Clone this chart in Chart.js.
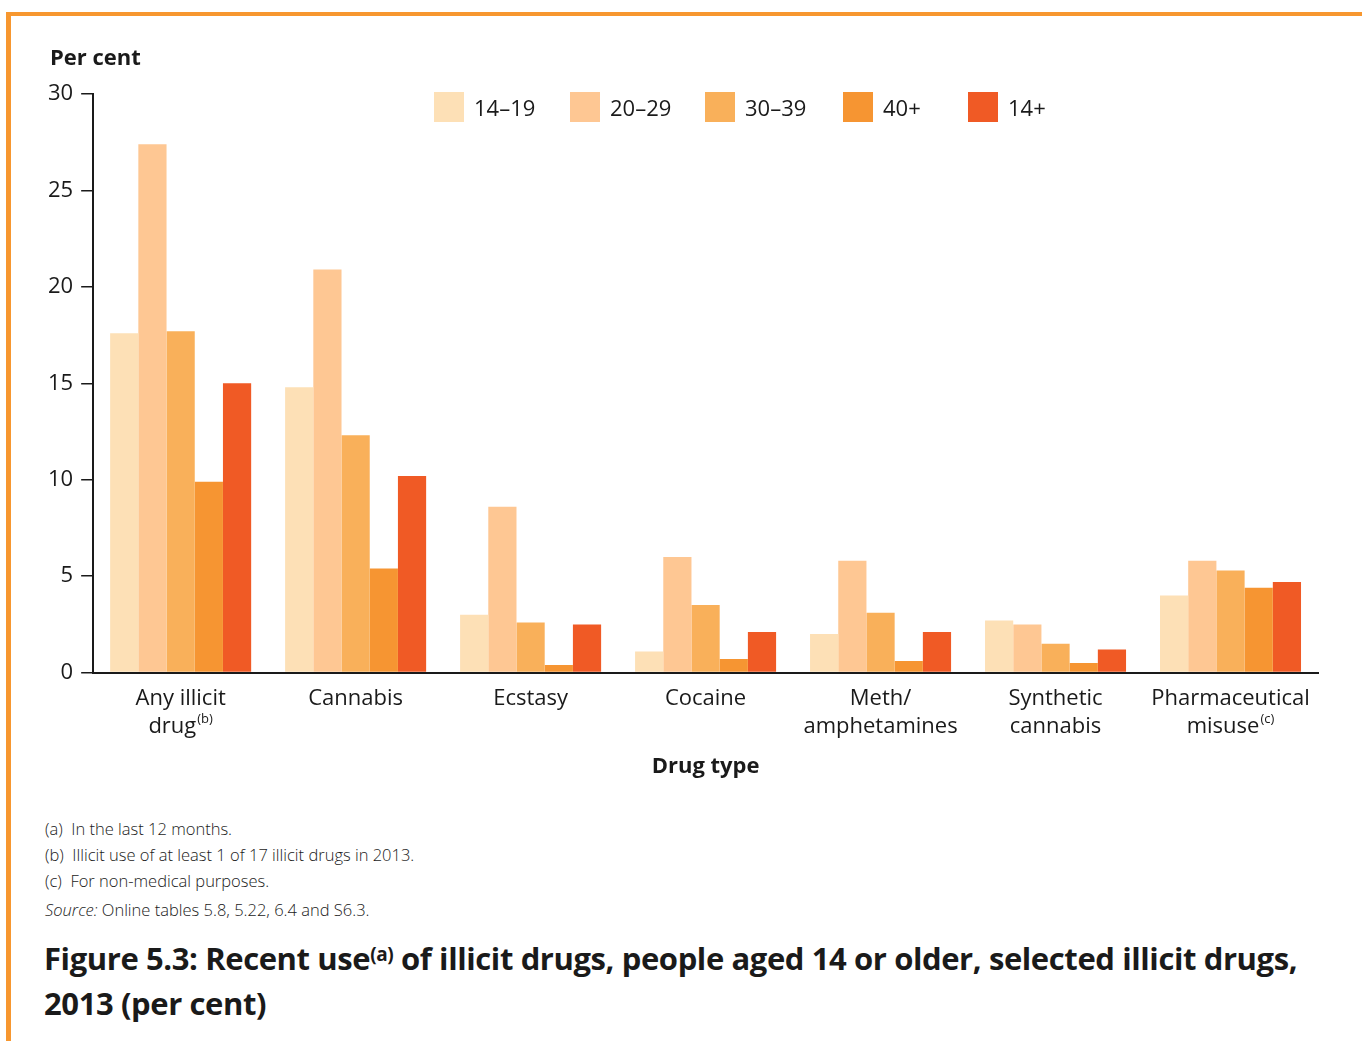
<!DOCTYPE html>
<html>
<head>
<meta charset="utf-8">
<script src="https://cdn.jsdelivr.net/npm/chart.js@4.4.1/dist/chart.umd.min.js"></script>
<style>
  body { margin:0; background:#fff; font-family:'Open Sans', sans-serif; color:#1a1a1a; width:1362px; height:1041px; overflow:hidden; position:relative; }
  #frame { position:absolute; left:6px; top:12px; right:0; bottom:0; border-top:4px solid #f7972f; border-left:5px solid #f7972f; }
  #wrap { position:absolute; left:0; top:0; width:1362px; height:780px; }
  #ylab { position:absolute; left:50px; top:40px; font-weight:700; font-size:22px; line-height:32px; }
  #legend { position:absolute; left:434px; top:92px; display:flex; align-items:center; }
  #legend .item { display:flex; align-items:center; font-size:22px; }
  #legend .box { width:30px; height:30px; margin-right:10px; }
  .note { position:absolute; left:45px; font-size:16.5px; line-height:22px; white-space:pre; font-weight:300; }
  #title { position:absolute; left:44px; top:936px; font-size:31px; font-weight:700; line-height:45px; letter-spacing:-0.4px; }
  #title sup { font-size:19px; vertical-align:top; position:relative; top:-4px; }
</style>
</head>
<body>
<div id="frame"></div>
<div id="wrap"><canvas id="chart"></canvas></div>
<div id="ylab">Per cent</div>
<div id="legend"></div>
<div class="note" style="top:818px">(a)  In the last 12 months.</div>
<div class="note" style="top:844px">(b)  Illicit use of at least 1 of 17 illicit drugs in 2013.</div>
<div class="note" style="top:870px">(c)  For non-medical purposes.</div>
<div class="note" style="top:899px"><i>Source:</i> Online tables 5.8, 5.22, 6.4 and S6.3.</div>
<div id="title">Figure 5.3: Recent use<sup>(a)</sup> of illicit drugs, people aged 14 or older, selected illicit drugs,<br>2013 (per cent)</div>
<script>
// ── data ──
const categories = [
    ['Any illicit', 'drug(b)'],
    ['Cannabis'],
    ['Ecstasy'],
    ['Cocaine'],
    ['Meth/', 'amphetamines'],
    ['Synthetic', 'cannabis'],
    ['Pharmaceutical', 'misuse(c)']
];
const seriesNames  = ['14–19', '20–29', '30–39', '40+', '14+'];
const seriesColors = ['#fde0b6', '#fec793', '#f9b05a', '#f69532', '#f05a25'];

const age14to19 = [17.6, 14.8, 3.0, 1.1, 2.0, 2.7, 4.0];
const age20to29 = [27.4, 20.9, 8.6, 6.0, 5.8, 2.5, 5.8];
const age30to39 = [17.7, 12.3, 2.6, 3.5, 3.1, 1.5, 5.3];
const age40plus = [9.9, 5.4, 0.4, 0.7, 0.6, 0.5, 4.4];
const age14plus = [15.0, 10.2, 2.5, 2.1, 2.1, 1.2, 4.7];

const yMin = 0, yMax = 30, yStep = 5;

const seriesValues = [age14to19, age20to29, age30to39, age40plus, age14plus];
const legendPitch = [136, 135, 138, 125, 0];   // spacing between legend entries in the original
const INK = '#1a1a1a';
const FONT = "'Open Sans', sans-serif";

// ── legend (html) ──
const legend = document.getElementById('legend');
seriesNames.forEach((name, i) => {
    const it = document.createElement('div');
    it.className = 'item';
    if (legendPitch[i]) it.style.width = legendPitch[i] + 'px';
    it.innerHTML = '<span class="box" style="background:' + seriesColors[i] + '"></span><span>' + name + '</span>';
    legend.appendChild(it);
});

// ── x labels with superscripts, placed on the category scale ──
const xLabelPlugin = {
    id: 'xLabels',
    afterDraw(chart) {
        const ctx = chart.ctx, xs = chart.scales.x, base = chart.chartArea.bottom;
        ctx.save();
        ctx.fillStyle = INK;
        ctx.textBaseline = 'middle';
        ctx.textAlign = 'left';
        categories.forEach((lines, i) => {
            const cx = xs.getPixelForTick(i);
            lines.forEach((line, j) => {
                const m = line.match(/^(.*?)(\(\w\))?$/);
                const main = m[1], sup = m[2] || '';
                ctx.font = '22px ' + FONT;
                const w1 = ctx.measureText(main).width;
                ctx.font = '13px ' + FONT;
                const w2 = sup ? ctx.measureText(sup).width + 1 : 0;
                const left = cx - (w1 + w2) / 2, y = base + 26 + j * 28;
                ctx.font = '22px ' + FONT;
                ctx.fillText(main, left, y);
                if (sup) { ctx.font = '13px ' + FONT; ctx.fillText(sup, left + w1 + 1, y - 7); }
            });
        });
        ctx.restore();
    }
};

new Chart(document.getElementById('chart'), {
    type: 'bar',
    data: {
        labels: categories.map(l => l.join(' ')),
        datasets: seriesNames.map((name, i) => ({
            label: name,
            data: seriesValues[i],
            backgroundColor: seriesColors[i],
            borderWidth: 0,
            barPercentage: 1.0,
            categoryPercentage: 0.806
        }))
    },
    options: {
        responsive: true,
        maintainAspectRatio: false,
        animation: false,
        layout: { padding: { left: 40, right: 44, top: 94, bottom: 0 } },
        plugins: { legend: { display: false }, tooltip: { enabled: false } },
        scales: {
            x: {
                grid: { display: false },
                border: { display: true, color: INK, width: 2 },
                ticks: { color: 'rgba(0,0,0,0)', font: { family: FONT, size: 22, lineHeight: 28 / 22 }, padding: 4, maxRotation: 0, autoSkip: false,
                         callback: (v, i) => categories[i] },
                title: { display: true, text: 'Drug type', color: INK, font: { family: FONT, size: 22, weight: '700', lineHeight: 1.2 }, padding: { top: 9, bottom: 0 } }
            },
            y: {
                min: yMin, max: yMax,
                grid: { display: true, drawOnChartArea: false, drawTicks: true, tickLength: 12, color: INK, lineWidth: 1.5 },
                border: { display: true, color: INK, width: 2 },
                ticks: { stepSize: yStep, color: INK, font: { family: FONT, size: 22 }, padding: 8 }
            }
        }
    },
    plugins: [xLabelPlugin]
});
</script>
</body>
</html>
